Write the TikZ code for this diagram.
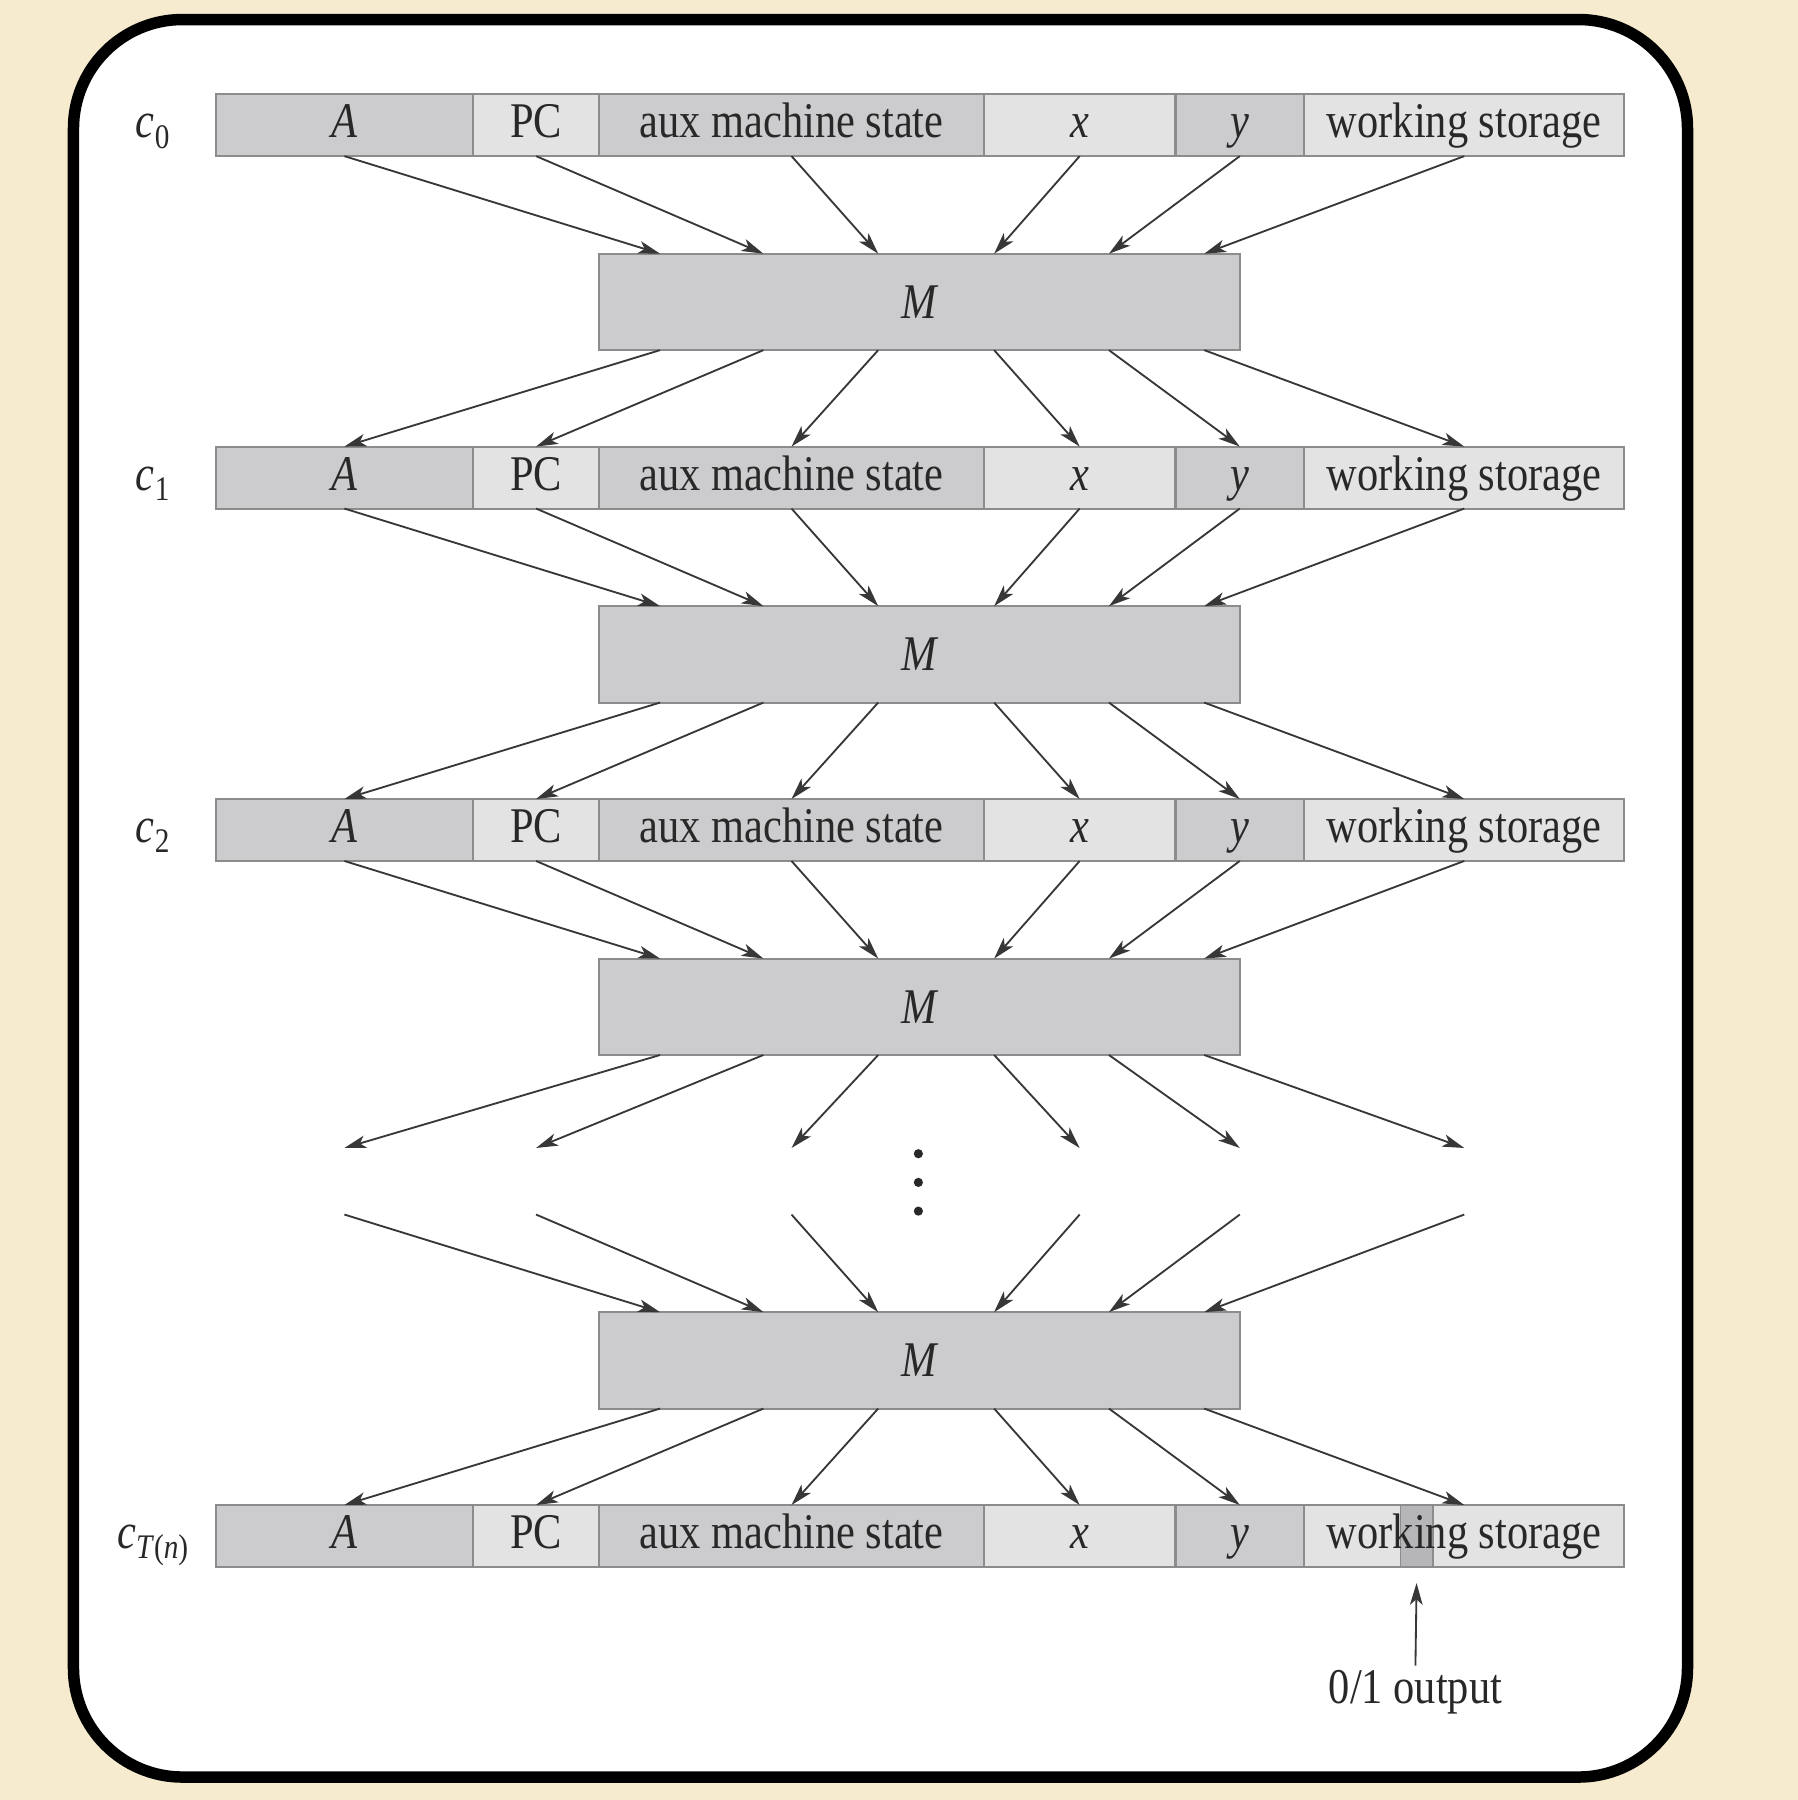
\documentclass[tikz,border=0pt]{standalone}
\usepackage{fontspec}
\setmainfont{Liberation Serif}[FakeStretch=0.85]
\usetikzlibrary{arrows.meta,calc}
\definecolor{beige}{RGB}{247,235,207}
\definecolor{cdark}{RGB}{204,204,206}
\definecolor{clight}{RGB}{227,227,227}
\definecolor{cout}{RGB}{182,182,184}
\definecolor{cborder}{RGB}{140,140,140}
\definecolor{carrow}{RGB}{55,55,55}
\definecolor{ctext}{RGB}{40,40,40}
\tikzset{
  cell/.style={draw=cborder, line width=1.8pt, minimum height=54pt, inner sep=0pt, outer sep=0pt, text height=28pt, text depth=6pt},
  dcell/.style={cell, fill=cdark},
  lcell/.style={cell, fill=clight},
  mach/.style={draw=cborder, line width=1.8pt, fill=cdark, minimum width=558pt, minimum height=84pt, inner sep=0pt, outer sep=0pt, font=\fontsize{43.5}{48}\selectfont\itshape},
  arr/.style={draw=carrow, line width=1.6pt, -{Stealth[length=19pt,width=11pt,inset=5pt]}},
  rowlbl/.style={anchor=base, inner sep=0pt}
}
% row: #1 = ws style, #2 = name, #3 = top y, #4 = label
\newcommand\cfgrow[4][lcell]{%
  \node[dcell, minimum width=224pt] (#2A) at (300,#3+27) {\textit{A}};
  \node[lcell, minimum width=110pt] (#2PC) at (467,#3+27) {PC};
  \node[dcell, minimum width=335pt] (#2aux) at (689.5,#3+27) {aux machine state};
  \node[lcell, minimum width=167pt] (#2x) at (940.5,#3+27) {\textit{x}};
  \node[dcell, minimum width=112pt] (#2y) at (1080,#3+27) {\textit{y}};
  \node[#1, minimum width=279pt] (#2ws) at (1275.5,#3+27) {working storage};
  \node[rowlbl] (#2lbl) at (133,#3+38) {#4};
}
% arrows from row #1 into machine #2
\newcommand\intom[2]{%
  \draw[arr] (#1A.south) -- ($(#2.north west)+(53,0)$);
  \draw[arr] (#1PC.south) -- ($(#2.north west)+(143,0)$);
  \draw[arr] (#1aux.south) -- ($(#2.north west)+(243,0)$);
  \draw[arr] (#1x.south) -- ($(#2.north west)+(344,0)$);
  \draw[arr] (#1y.south) -- ($(#2.north west)+(444,0)$);
  \draw[arr] (#1ws.south) -- ($(#2.north west)+(527,0)$);
}
% arrows from machine #1 into row #2
\newcommand\outofm[2]{%
  \draw[arr] ($(#1.south west)+(53,0)$) -- (#2A.north);
  \draw[arr] ($(#1.south west)+(143,0)$) -- (#2PC.north);
  \draw[arr] ($(#1.south west)+(243,0)$) -- (#2aux.north);
  \draw[arr] ($(#1.south west)+(344,0)$) -- (#2x.north);
  \draw[arr] ($(#1.south west)+(444,0)$) -- (#2y.north);
  \draw[arr] ($(#1.south west)+(527,0)$) -- (#2ws.north);
}
\begin{document}
\begin{tikzpicture}[x={(1pt,0pt)}, y={(0pt,-1pt)}, font=\fontsize{43.5}{48}\selectfont, text=ctext]
\useasboundingbox (0,0) rectangle (1566,1568);
\fill[beige] (0,0) rectangle (1566,1568);
\draw[line width=10pt, rounded corners=95pt, fill=white] (64,17) rectangle (1470,1548);

% rows
\cfgrow{ra}{82}{\textit{c}\raisebox{-9pt}{\fontsize{30}{30}\selectfont 0}}
\cfgrow{rb}{389}{\textit{c}\raisebox{-9pt}{\fontsize{30}{30}\selectfont 1}}
\cfgrow{rc}{696}{\textit{c}\raisebox{-9pt}{\fontsize{30}{30}\selectfont 2}}
% last row with output cell
\fill[clight] (1136,1311) rectangle (1415,1365);
\node[draw=cborder, fill=cout, line width=1.6pt, minimum width=28pt, minimum height=54pt, inner sep=0pt, outer sep=0pt] (out) at (1234,1338) {};
\cfgrow[{cell, fill=none}]{rt}{1311}{\textit{c}\raisebox{-9pt}{\fontsize{30}{30}\selectfont\textit{T}(\textit{n})}}

% machines
\node[mach] (m1) at (801,263) {M};
\node[mach] (m2) at (801,570) {M};
\node[mach] (m3) at (801,877) {M};
\node[mach] (m4) at (801,1185) {M};

\intom{ra}{m1}
\outofm{m1}{rb}
\intom{rb}{m2}
\outofm{m2}{rc}
\intom{rc}{m3}
\outofm{m4}{rt}

% dangling arrows around the ellipsis
\coordinate (da) at (300,1000);
\coordinate (db) at (467,1000);
\coordinate (dc) at (689.5,1000);
\coordinate (dd) at (940.5,1000);
\coordinate (de) at (1080,1000);
\coordinate (df) at (1275.5,1000);
\coordinate (ea) at (300,1058);
\coordinate (eb) at (467,1058);
\coordinate (ec) at (689.5,1058);
\coordinate (ed) at (940.5,1058);
\coordinate (ee) at (1080,1058);
\coordinate (ef) at (1275.5,1058);
\draw[arr] ($(m3.south west)+(53,0)$) -- (da);
\draw[arr] ($(m3.south west)+(143,0)$) -- (db);
\draw[arr] ($(m3.south west)+(243,0)$) -- (dc);
\draw[arr] ($(m3.south west)+(344,0)$) -- (dd);
\draw[arr] ($(m3.south west)+(444,0)$) -- (de);
\draw[arr] ($(m3.south west)+(527,0)$) -- (df);
\draw[arr] (ea) -- ($(m4.north west)+(53,0)$);
\draw[arr] (eb) -- ($(m4.north west)+(143,0)$);
\draw[arr] (ec) -- ($(m4.north west)+(243,0)$);
\draw[arr] (ed) -- ($(m4.north west)+(344,0)$);
\draw[arr] (ee) -- ($(m4.north west)+(444,0)$);
\draw[arr] (ef) -- ($(m4.north west)+(527,0)$);
\fill[ctext] (800,1005) circle (4pt);
\fill[ctext] (800,1030) circle (4pt);
\fill[ctext] (800,1055) circle (4pt);

% output
\node[anchor=base, inner sep=4pt] (outlbl) at (1233,1484) {0/1 output};
\draw[arr] (outlbl.north) -- ($(out.south)+(0,14)$);
\end{tikzpicture}
\end{document}
